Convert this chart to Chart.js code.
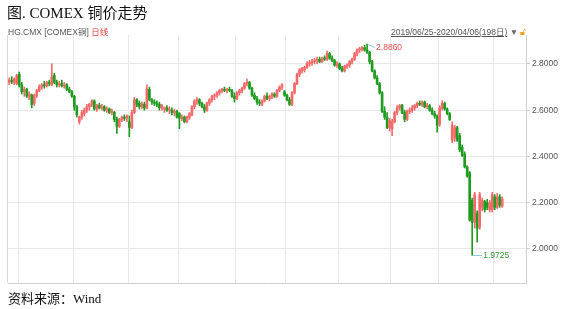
<!DOCTYPE html>
<html>
<head>
<meta charset="utf-8">
<script src="https://cdn.jsdelivr.net/npm/chart.js@4.4.1/dist/chart.umd.min.js"></script>
<style>
  body { margin: 0; background: #fff; }
  #wrap { position: relative; width: 570px; height: 309px; overflow: hidden; }
  #c { position: absolute; left: 0; top: 0; }
  .t { position: absolute; white-space: nowrap; }
  .serif { font-family: 'Liberation Serif', 'Noto Sans CJK SC', serif; color: #111; }
  .small { font-family: 'Liberation Sans', 'Noto Sans CJK SC', sans-serif; font-size: 8.5px; color: #555; }
</style>
</head>
<body>
<div id="wrap">
  <canvas id="c" width="570" height="309"></canvas>
  <div class="t serif" style="left:7px;top:1px;font-size:15px;">图. COMEX 铜价走势</div>
  <div class="t small" style="left:8px;top:25px;">HG.CMX [COMEX铜] <span style="color:#e8403e">日线</span></div>
  <div class="t small" style="left:391px;top:25px;"><span style="text-decoration:underline">2019/06/25-2020/04/06(198日)</span> <span style="color:#666">▼</span> <span style="color:#f0a020">🔓︎</span></div>
  <div class="t serif" style="left:8px;top:288px;font-size:13px;">资料来源：Wind</div>
</div>
<script>
// trading calendar: start date and exchange holidays in range
const START_DATE = '2019-06-25';
const HOLIDAYS = ['2019-07-04', '2019-09-02', '2019-11-28', '2019-12-25', '2020-01-01', '2020-01-20', '2020-02-17'];
const EMPTY_SLOTS = 9;

const opens = [
  2.72, 2.73, 2.72, 2.715, 2.755, 2.71, 2.68, 2.69, 2.66, 2.665,
  2.63, 2.665, 2.685, 2.70, 2.71, 2.705, 2.72, 2.71, 2.75, 2.72,
  2.71, 2.715, 2.705, 2.71, 2.69, 2.68, 2.66, 2.615, 2.55, 2.57,
  2.585, 2.60, 2.615, 2.625, 2.64, 2.605, 2.62, 2.61, 2.615, 2.60,
  2.605, 2.59, 2.59, 2.56, 2.53, 2.56, 2.57, 2.565, 2.55, 2.525,
  2.59, 2.645, 2.63, 2.615, 2.625, 2.61, 2.69, 2.645, 2.635, 2.63,
  2.625, 2.61, 2.605, 2.61, 2.60, 2.60, 2.59, 2.595, 2.585, 2.565,
  2.57, 2.55, 2.57, 2.58, 2.615, 2.64, 2.645, 2.63, 2.615, 2.60,
  2.63, 2.645, 2.66, 2.665, 2.675, 2.685, 2.69, 2.685, 2.69, 2.685,
  2.66, 2.65, 2.675, 2.685, 2.695, 2.715, 2.72, 2.695, 2.665, 2.65,
  2.635, 2.625, 2.64, 2.66, 2.65, 2.66, 2.67, 2.66, 2.685, 2.70,
  2.68, 2.665, 2.645, 2.625, 2.675, 2.715, 2.755, 2.77, 2.775, 2.785,
  2.80, 2.805, 2.81, 2.815, 2.82, 2.81, 2.825, 2.82, 2.845, 2.825,
  2.815, 2.795, 2.80, 2.78, 2.77, 2.79, 2.795, 2.81, 2.82, 2.845,
  2.86, 2.865, 2.87, 2.86, 2.85, 2.81, 2.77, 2.74, 2.715, 2.675,
  2.595, 2.57, 2.525, 2.52, 2.55, 2.59, 2.61, 2.62, 2.59, 2.56,
  2.595, 2.60, 2.61, 2.62, 2.63, 2.625, 2.635, 2.615, 2.62, 2.60,
  2.585, 2.575, 2.54, 2.61, 2.63, 2.605, 2.585, 2.47, 2.48, 2.525,
  2.49, 2.44, 2.41, 2.355, 2.33, 2.21, 2.115, 2.155, 2.095, 2.18,
  2.205, 2.20, 2.17, 2.17, 2.225, 2.18, 2.225, 2.185
];
const highs = [
  2.74, 2.745, 2.74, 2.755, 2.765, 2.72, 2.70, 2.695, 2.68, 2.67,
  2.67, 2.69, 2.71, 2.715, 2.725, 2.725, 2.73, 2.80, 2.76, 2.73,
  2.725, 2.73, 2.72, 2.715, 2.70, 2.685, 2.665, 2.62, 2.575, 2.60,
  2.61, 2.625, 2.63, 2.645, 2.645, 2.625, 2.63, 2.625, 2.62, 2.615,
  2.61, 2.605, 2.595, 2.57, 2.565, 2.575, 2.58, 2.58, 2.575, 2.60,
  2.655, 2.65, 2.64, 2.635, 2.635, 2.71, 2.70, 2.65, 2.645, 2.64,
  2.635, 2.625, 2.615, 2.62, 2.615, 2.61, 2.605, 2.60, 2.59, 2.58,
  2.575, 2.575, 2.59, 2.62, 2.645, 2.655, 2.65, 2.635, 2.625, 2.635,
  2.65, 2.665, 2.67, 2.68, 2.69, 2.695, 2.70, 2.695, 2.70, 2.69,
  2.675, 2.68, 2.69, 2.70, 2.72, 2.735, 2.725, 2.70, 2.675, 2.66,
  2.645, 2.645, 2.665, 2.675, 2.665, 2.675, 2.675, 2.69, 2.705, 2.715,
  2.685, 2.67, 2.655, 2.68, 2.72, 2.76, 2.78, 2.785, 2.79, 2.81,
  2.815, 2.82, 2.825, 2.83, 2.83, 2.83, 2.835, 2.856, 2.85, 2.835,
  2.82, 2.81, 2.805, 2.79, 2.795, 2.80, 2.815, 2.825, 2.85, 2.865,
  2.872, 2.875, 2.88, 2.886, 2.855, 2.815, 2.775, 2.75, 2.72, 2.68,
  2.615, 2.59, 2.565, 2.56, 2.595, 2.62, 2.625, 2.625, 2.60, 2.60,
  2.61, 2.62, 2.625, 2.635, 2.64, 2.64, 2.64, 2.63, 2.625, 2.61,
  2.595, 2.58, 2.62, 2.64, 2.635, 2.61, 2.59, 2.55, 2.535, 2.53,
  2.50, 2.45, 2.42, 2.36, 2.335, 2.22, 2.245, 2.165, 2.245, 2.22,
  2.21, 2.215, 2.21, 2.245, 2.235, 2.24, 2.235, 2.225
];
const lows = [
  2.71, 2.715, 2.71, 2.71, 2.70, 2.67, 2.66, 2.655, 2.645, 2.61,
  2.62, 2.655, 2.68, 2.69, 2.695, 2.70, 2.705, 2.705, 2.715, 2.70,
  2.70, 2.70, 2.695, 2.685, 2.675, 2.655, 2.60, 2.57, 2.54, 2.56,
  2.575, 2.59, 2.60, 2.615, 2.60, 2.595, 2.605, 2.60, 2.595, 2.59,
  2.585, 2.58, 2.55, 2.50, 2.525, 2.55, 2.555, 2.55, 2.485, 2.52,
  2.585, 2.615, 2.605, 2.605, 2.60, 2.605, 2.64, 2.625, 2.62, 2.615,
  2.60, 2.60, 2.59, 2.595, 2.585, 2.58, 2.575, 2.565, 2.52, 2.555,
  2.545, 2.545, 2.56, 2.575, 2.605, 2.625, 2.62, 2.61, 2.59, 2.595,
  2.62, 2.635, 2.645, 2.655, 2.665, 2.675, 2.68, 2.675, 2.68, 2.655,
  2.635, 2.645, 2.665, 2.675, 2.69, 2.705, 2.69, 2.66, 2.645, 2.625,
  2.62, 2.62, 2.635, 2.645, 2.64, 2.65, 2.655, 2.655, 2.68, 2.69,
  2.66, 2.64, 2.62, 2.62, 2.67, 2.71, 2.745, 2.76, 2.765, 2.78,
  2.79, 2.795, 2.80, 2.80, 2.805, 2.805, 2.815, 2.815, 2.82, 2.81,
  2.79, 2.785, 2.775, 2.765, 2.765, 2.78, 2.785, 2.80, 2.815, 2.835,
  2.85, 2.855, 2.855, 2.845, 2.80, 2.765, 2.735, 2.71, 2.67, 2.59,
  2.56, 2.52, 2.51, 2.49, 2.545, 2.58, 2.60, 2.585, 2.55, 2.555,
  2.585, 2.59, 2.60, 2.61, 2.62, 2.615, 2.61, 2.605, 2.595, 2.58,
  2.565, 2.505, 2.53, 2.60, 2.60, 2.58, 2.555, 2.46, 2.465, 2.465,
  2.42, 2.40, 2.35, 2.31, 2.12, 1.9725, 2.09, 2.03, 2.085, 2.165,
  2.16, 2.17, 2.16, 2.16, 2.17, 2.175, 2.18, 2.18
];
const closes = [
  2.73, 2.725, 2.735, 2.75, 2.71, 2.68, 2.69, 2.66, 2.67, 2.625,
  2.665, 2.685, 2.70, 2.71, 2.705, 2.72, 2.715, 2.745, 2.72, 2.71,
  2.715, 2.705, 2.71, 2.69, 2.68, 2.66, 2.615, 2.58, 2.57, 2.59,
  2.60, 2.615, 2.625, 2.64, 2.605, 2.62, 2.61, 2.615, 2.60, 2.605,
  2.59, 2.595, 2.56, 2.53, 2.56, 2.57, 2.565, 2.575, 2.525, 2.59,
  2.645, 2.625, 2.615, 2.625, 2.61, 2.69, 2.645, 2.635, 2.63, 2.625,
  2.61, 2.62, 2.61, 2.60, 2.605, 2.59, 2.595, 2.57, 2.565, 2.57,
  2.55, 2.57, 2.585, 2.615, 2.64, 2.645, 2.63, 2.615, 2.60, 2.63,
  2.645, 2.66, 2.665, 2.675, 2.685, 2.69, 2.685, 2.69, 2.685, 2.66,
  2.65, 2.675, 2.685, 2.695, 2.715, 2.72, 2.695, 2.665, 2.65, 2.635,
  2.63, 2.64, 2.66, 2.65, 2.66, 2.67, 2.66, 2.685, 2.70, 2.71,
  2.665, 2.645, 2.625, 2.675, 2.715, 2.755, 2.775, 2.78, 2.785, 2.80,
  2.805, 2.81, 2.815, 2.82, 2.81, 2.825, 2.82, 2.845, 2.825, 2.815,
  2.795, 2.80, 2.78, 2.77, 2.79, 2.795, 2.81, 2.82, 2.845, 2.86,
  2.865, 2.87, 2.86, 2.85, 2.81, 2.77, 2.74, 2.715, 2.675, 2.595,
  2.57, 2.525, 2.555, 2.55, 2.59, 2.61, 2.62, 2.59, 2.56, 2.595,
  2.60, 2.61, 2.62, 2.63, 2.625, 2.635, 2.615, 2.62, 2.60, 2.585,
  2.575, 2.535, 2.61, 2.63, 2.605, 2.585, 2.56, 2.535, 2.525, 2.47,
  2.43, 2.405, 2.355, 2.315, 2.125, 2.115, 2.235, 2.09, 2.235, 2.21,
  2.17, 2.18, 2.20, 2.235, 2.18, 2.225, 2.19, 2.215
];
const Y_TICKS = [2.0, 2.2, 2.4, 2.6, 2.8];

const UP_COLOR = '#f46a6a';
const DOWN_COLOR = '#1f9b1f';

const buildDates = () => {
  const out = [];
  const d = new Date(START_DATE + 'T00:00:00Z');
  while (out.length < closes.length) {
    const s = d.toISOString().slice(0, 10);
    const wd = d.getUTCDay();
    if (wd !== 0 && wd !== 6 && !HOLIDAYS.includes(s)) out.push(s);
    d.setUTCDate(d.getUTCDate() + 1);
  }
  return out;
};

const dates = buildDates();
const labels = dates.concat(Array(EMPTY_SLOTS).fill(''));
const colors = closes.map((c, i) => (c >= opens[i] ? UP_COLOR : DOWN_COLOR));

const isMonthStart = (i) => {
  if (i === 0) return true;
  const cur = labels[i];
  const prev = labels[i - 1];
  return !!(cur && prev && cur.slice(5, 7) !== prev.slice(5, 7));
};

const extremesPlugin = {
  id: 'extremes',
  afterDatasetsDraw(chart) {
    const { ctx, scales } = chart;
    const hiVal = Math.max(...highs);
    const loVal = Math.min(...lows);
    const hi = highs.indexOf(hiVal);
    const lo = lows.indexOf(loVal);
    ctx.save();
    ctx.font = '8.5px "Liberation Sans"';
    ctx.textBaseline = 'middle';
    ctx.strokeStyle = '#8fc6e6';
    ctx.lineWidth = 1;

    let px = scales.x.getPixelForValue(hi);
    let py = scales.y.getPixelForValue(hiVal);
    ctx.beginPath();
    ctx.moveTo(px + 1, py + 0.5);
    ctx.lineTo(px + 8, py + 3.5);
    ctx.stroke();
    ctx.fillStyle = '#e8504f';
    ctx.fillText(hiVal.toFixed(4), px + 9, py + 4);

    px = scales.x.getPixelForValue(lo);
    py = scales.y.getPixelForValue(loVal);
    ctx.beginPath();
    ctx.moveTo(px + 1, Math.round(py) + 0.5);
    ctx.lineTo(px + 10, Math.round(py) + 0.5);
    ctx.stroke();
    ctx.fillStyle = '#2e9a2e';
    ctx.fillText(loVal.toFixed(4), px + 11, py);
    ctx.restore();
  },
};

new Chart(document.getElementById('c'), {
  type: 'bar',
  data: {
    labels,
    datasets: [
      {
        label: 'wick',
        data: highs.map((h, i) => [lows[i], h]),
        backgroundColor: colors,
        barThickness: 1,
        grouped: false,
        order: 2,
      },
      {
        label: 'body',
        data: opens.map((o, i) => [o, closes[i]]),
        backgroundColor: colors,
        barThickness: 2,
        minBarLength: 1,
        grouped: false,
        order: 1,
      },
    ],
  },
  options: {
    responsive: false,
    animation: false,
    layout: { padding: { left: 8, top: 35, right: 0, bottom: 26 } },
    plugins: {
      legend: { display: false },
      tooltip: { enabled: false },
    },
    scales: {
      x: {
        ticks: { display: false, autoSkip: false },
        grid: {
          drawTicks: false,
          color: (c) => (isMonthStart(c.index) ? (c.index === 0 ? '#d8d8d8' : '#e8e8e8') : 'transparent'),
        },
        border: { display: true, color: '#d0d0d0' },
      },
      y: {
        position: 'right',
        min: 1.853,
        max: 2.925,
        afterBuildTicks: (axis) => {
          axis.ticks = Y_TICKS.map((v) => ({ value: v }));
        },
        afterFit: (axis) => {
          axis.width = 44;
        },
        grid: { color: '#e8e8e8', tickLength: 4, tickColor: '#cccccc' },
        border: { color: '#cfcfcf' },
        ticks: {
          color: '#555',
          padding: 2,
          font: { size: 8.5, family: 'Liberation Sans' },
          callback: (v) => Number(v).toFixed(4),
        },
      },
    },
  },
  plugins: [extremesPlugin],
});
</script>
</body>
</html>
